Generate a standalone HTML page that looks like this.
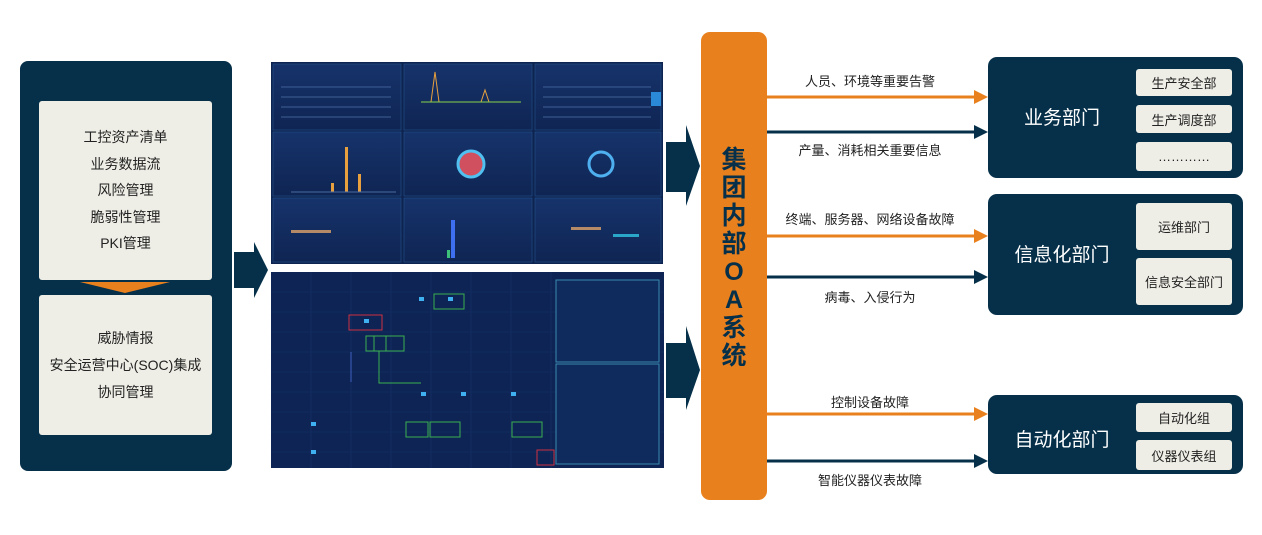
<!DOCTYPE html>
<html><head><meta charset="utf-8">
<style>
*{margin:0;padding:0;box-sizing:border-box}
body{width:1262px;height:535px;background:#fff;position:relative;overflow:hidden;font-family:"Liberation Sans","Noto Sans CJK SC",sans-serif}
.a{position:absolute}
.navy{background:#06304a}
.card{background:#efeee6;border-radius:3px}
.ct{display:flex;flex-direction:column;align-items:center;justify-content:center;text-align:center;color:#222}
.lbl{position:absolute;font-size:13px;color:#222;white-space:nowrap;transform:translateX(-50%)}
.sub{position:absolute;left:1136px;width:96px;background:#efeee6;border-radius:3px;font-size:13px;color:#222;display:flex;align-items:center;justify-content:center}
.dept{position:absolute;color:#fff;font-size:19px;width:148px;text-align:center}
</style></head><body>

<div class="a navy" style="left:20px;top:61px;width:212px;height:410px;border-radius:8px"></div>
<div class="a card ct" style="left:39px;top:101px;width:173px;height:179px;font-size:14px;line-height:26.5px">
<div>工控资产清单</div><div>业务数据流</div><div>风险管理</div><div>脆弱性管理</div><div>PKI管理</div></div>
<svg class="a" style="left:80px;top:282px" width="90" height="12"><polygon points="0,0 90,0 45,11" fill="#e8801e"/></svg>
<div class="a card ct" style="left:39px;top:295px;width:173px;height:140px;font-size:14px;line-height:27px">
<div>威胁情报</div><div>安全运营中心(SOC)集成</div><div>协同管理</div></div>

<svg class="a" style="left:0;top:0" width="1262" height="535">
<polygon points="234,252 254,252 254,242 268,270 254,298 254,288 234,288" fill="#06304a"/>
<polygon points="666,142 686,142 686,125 700,166 686,206 686,192 666,192" fill="#06304a"/>
<polygon points="666,343 686,343 686,326 700,370 686,410 686,398 666,398" fill="#06304a"/>
</svg>

<svg class="a" style="left:271px;top:62px" width="392" height="202">
<defs><linearGradient id="g1" x1="0" y1="0" x2="0" y2="1"><stop offset="0" stop-color="#16336b"/><stop offset="1" stop-color="#0f2553"/></linearGradient></defs>
<rect width="392" height="202" fill="#0e2450"/>
<g fill="url(#g1)" stroke="#24508a" stroke-width="0.6">
<rect x="2" y="2" width="128" height="66"/><rect x="133" y="2" width="128" height="66"/><rect x="264" y="2" width="126" height="66"/>
<rect x="2" y="70" width="128" height="64"/><rect x="133" y="70" width="128" height="64"/><rect x="264" y="70" width="126" height="64"/>
<rect x="2" y="136" width="128" height="64"/><rect x="133" y="136" width="128" height="64"/><rect x="264" y="136" width="126" height="64"/>
</g>
<g stroke="#3f5f95" stroke-width="1">
<line x1="10" y1="25" x2="120" y2="25"/><line x1="10" y1="35" x2="120" y2="35"/><line x1="10" y1="45" x2="120" y2="45"/><line x1="10" y1="55" x2="120" y2="55"/>
<line x1="272" y1="25" x2="380" y2="25"/><line x1="272" y1="35" x2="380" y2="35"/><line x1="272" y1="45" x2="380" y2="45"/><line x1="272" y1="55" x2="380" y2="55"/>
</g>
<polyline points="150,40 160,40 164,10 168,40 210,40 214,28 218,40 250,40" fill="none" stroke="#e8a03e" stroke-width="1"/>
<line x1="150" y1="40" x2="250" y2="40" stroke="#8bd34a" stroke-width="1"/>
<rect x="74" y="85" width="3" height="45" fill="#e8a03e"/><rect x="87" y="112" width="3" height="18" fill="#e8a03e"/><rect x="60" y="121" width="3" height="9" fill="#e8a03e"/>
<line x1="20" y1="130" x2="125" y2="130" stroke="#4a6aa0"/>
<circle cx="200" cy="102" r="13" fill="#d05060" stroke="#4fc0f0" stroke-width="3"/>
<circle cx="330" cy="102" r="12" fill="none" stroke="#4fb0f0" stroke-width="3"/>
<rect x="20" y="168" width="40" height="3" fill="#b58a66"/>
<rect x="180" y="158" width="4" height="38" fill="#3d6ff0"/><rect x="176" y="188" width="3" height="8" fill="#3cc07a"/>
<rect x="300" y="165" width="30" height="3" fill="#b58a66"/><rect x="342" y="172" width="26" height="3" fill="#2aa6c8"/>
<rect x="380" y="30" width="10" height="14" fill="#2a8ad8"/>
</svg>
<svg class="a" style="left:271px;top:272px" width="393" height="196">
<rect width="393" height="196" fill="#0d2455"/>
<g stroke="#163369" stroke-width="0.6">
<line x1="0" y1="20" x2="393" y2="20"/><line x1="0" y1="40" x2="393" y2="40"/><line x1="0" y1="60" x2="393" y2="60"/><line x1="0" y1="80" x2="393" y2="80"/><line x1="0" y1="100" x2="393" y2="100"/><line x1="0" y1="120" x2="393" y2="120"/><line x1="0" y1="140" x2="393" y2="140"/><line x1="0" y1="160" x2="393" y2="160"/><line x1="0" y1="180" x2="393" y2="180"/>
<line x1="40" y1="0" x2="40" y2="196"/><line x1="80" y1="0" x2="80" y2="196"/><line x1="120" y1="0" x2="120" y2="196"/><line x1="160" y1="0" x2="160" y2="196"/><line x1="200" y1="0" x2="200" y2="196"/><line x1="240" y1="0" x2="240" y2="196"/><line x1="280" y1="0" x2="280" y2="196"/>
</g>
<rect x="285" y="8" width="103" height="82" fill="#0f2a5c" stroke="#3a8ab0"/>
<rect x="285" y="92" width="103" height="100" fill="#0f2a5c" stroke="#3a8ab0"/>
<g fill="none" stroke-width="1">
<rect x="78" y="43" width="33" height="15" stroke="#d03040"/>
<rect x="163" y="22" width="30" height="15" stroke="#3cb050"/>
<rect x="95" y="64" width="20" height="15" stroke="#3cb050"/>
<rect x="103" y="64" width="30" height="15" stroke="#3cb050"/>
<rect x="135" y="150" width="22" height="15" stroke="#3cb050"/><rect x="159" y="150" width="30" height="15" stroke="#3cb050"/>
<rect x="241" y="150" width="30" height="15" stroke="#3cb050"/><rect x="266" y="178" width="17" height="15" stroke="#d03040"/>
<polyline points="108,79 108,111 150,111" stroke="#3cb050"/>
<line x1="80" y1="80" x2="80" y2="110" stroke="#4060c0"/>
</g>
<g fill="#3fb0f0"><rect x="148" y="25" width="5" height="4"/><rect x="177" y="25" width="5" height="4"/><rect x="93" y="47" width="5" height="4"/><rect x="150" y="120" width="5" height="4"/><rect x="190" y="120" width="5" height="4"/><rect x="240" y="120" width="5" height="4"/><rect x="40" y="150" width="5" height="4"/><rect x="40" y="178" width="5" height="4"/></g>
</svg>

<div class="a" style="left:701px;top:32px;width:66px;height:468px;background:#e8801e;border-radius:9px"></div>
<div class="a" style="left:701px;top:146px;width:66px;text-align:center;font-size:25px;font-weight:bold;line-height:28px;color:#06304a">集<br>团<br>内<br>部<br>O<br>A<br>系<br>统</div>

<svg class="a" style="left:0;top:0" width="1262" height="535">
<g stroke-width="3">
<line x1="767" y1="97" x2="976" y2="97" stroke="#e8801e"/><polygon points="974,90 988,97 974,104" fill="#e8801e"/>
<line x1="767" y1="132" x2="976" y2="132" stroke="#06304a"/><polygon points="974,125 988,132 974,139" fill="#06304a"/>
<line x1="767" y1="236" x2="976" y2="236" stroke="#e8801e"/><polygon points="974,229 988,236 974,243" fill="#e8801e"/>
<line x1="767" y1="277" x2="976" y2="277" stroke="#06304a"/><polygon points="974,270 988,277 974,284" fill="#06304a"/>
<line x1="767" y1="414" x2="976" y2="414" stroke="#e8801e"/><polygon points="974,407 988,414 974,421" fill="#e8801e"/>
<line x1="767" y1="461" x2="976" y2="461" stroke="#06304a"/><polygon points="974,454 988,461 974,468" fill="#06304a"/>
</g></svg>
<div class="lbl" style="left:870px;top:71px">人员、环境等重要告警</div>
<div class="lbl" style="left:870px;top:140px">产量、消耗相关重要信息</div>
<div class="lbl" style="left:870px;top:209px">终端、服务器、网络设备故障</div>
<div class="lbl" style="left:870px;top:287px">病毒、入侵行为</div>
<div class="lbl" style="left:870px;top:392px">控制设备故障</div>
<div class="lbl" style="left:870px;top:470px">智能仪器仪表故障</div>

<div class="a navy" style="left:988px;top:57px;width:255px;height:121px;border-radius:9px"></div>
<div class="a navy" style="left:988px;top:194px;width:255px;height:121px;border-radius:9px"></div>
<div class="a navy" style="left:988px;top:395px;width:255px;height:79px;border-radius:9px"></div>
<div class="dept" style="left:988px;top:103px">业务部门</div>
<div class="dept" style="left:988px;top:240px">信息化部门</div>
<div class="dept" style="left:988px;top:425px">自动化部门</div>
<div class="sub" style="top:69px;height:27px">生产安全部</div>
<div class="sub" style="top:105px;height:28px">生产调度部</div>
<div class="sub" style="top:142px;height:29px">…………</div>
<div class="sub" style="top:203px;height:47px">运维部门</div>
<div class="sub" style="top:258px;height:47px">信息安全部门</div>
<div class="sub" style="top:403px;height:29px">自动化组</div>
<div class="sub" style="top:440px;height:30px">仪器仪表组</div>
</body></html>
